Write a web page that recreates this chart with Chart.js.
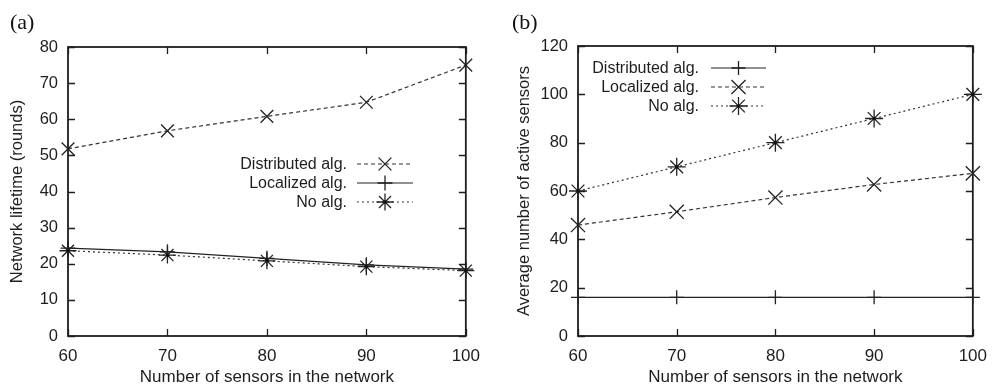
<!DOCTYPE html>
<html><head><meta charset="utf-8">
<script src="https://cdn.jsdelivr.net/npm/chart.js@4/dist/chart.umd.min.js"></script>
<style>
html,body{margin:0;padding:0;background:#fff;width:997px;height:391px;overflow:hidden;}
.wrap{position:absolute;top:0;}
.lbl{position:absolute;font-family:"Liberation Serif","DejaVu Serif",serif;font-size:22px;line-height:22px;color:#111;}
</style></head><body>
<div class="wrap" style="left:0"><canvas id="ca" width="490" height="391"></canvas></div>
<div class="wrap" style="left:500px"><canvas id="cb" width="497" height="391"></canvas></div>
<div class="lbl" style="left:10px;top:11px">(a)</div>
<div class="lbl" style="left:512px;top:11px">(b)</div>
<script>
const sensors = [60, 70, 80, 90, 100];
const xTicks = [60, 70, 80, 90, 100];
const lifetimeTicks = [0, 10, 20, 30, 40, 50, 60, 70, 80];
const activeTicks = [0, 20, 40, 60, 80, 100, 120];
const lifetimeDistributed = [51.8, 56.8, 60.8, 64.7, 75.0];
const lifetimeLocalized = [24.3, 23.3, 21.5, 19.7, 18.5];
const lifetimeNoAlg = [23.6, 22.4, 20.8, 19.2, 18.1];
const activeDistributed = [16, 16, 16, 16, 16];
const activeLocalized = [45.9, 51.4, 57.3, 62.7, 67.3];
const activeNoAlg = [60, 70, 80, 90, 100];
const seriesNames = ['Distributed alg.', 'Localized alg.', 'No alg.'];

const FONT = '"Liberation Sans", Arial, Helvetica, sans-serif';
const INK = '#1e1e1e';

function pts(vals){ return sensors.map((x,i)=>({x:x, y:vals[i]})); }

function drawMarker(ctx, style, r, x, y){
  ctx.beginPath();
  if(style==='cross' || style==='star'){
    ctx.moveTo(x-r,y); ctx.lineTo(x+r,y);
    ctx.moveTo(x,y-r); ctx.lineTo(x,y+r);
  }
  if(style==='crossRot' || style==='star'){
    const d = r*Math.SQRT1_2;
    ctx.moveTo(x-d,y-d); ctx.lineTo(x+d,y+d);
    ctx.moveTo(x-d,y+d); ctx.lineTo(x+d,y-d);
  }
  ctx.stroke();
  if(style==='star'){
    ctx.beginPath(); ctx.arc(x,y,1.6,0,Math.PI*2); ctx.fillStyle='#111'; ctx.fill();
  }
}

const framePlugin = {
  id:'frame',
  beforeDatasetsDraw(chart){
    const {ctx, chartArea:a, scales} = chart;
    const tl = 7;
    ctx.save();
    ctx.strokeStyle = INK;
    ctx.lineWidth = 1.3;
    ctx.beginPath();
    scales.x.ticks.forEach(t=>{
      const px = Math.round(scales.x.getPixelForValue(t.value))+0.5;
      ctx.moveTo(px,a.bottom); ctx.lineTo(px,a.bottom-tl);
      ctx.moveTo(px,a.top); ctx.lineTo(px,a.top+tl);
    });
    scales.y.ticks.forEach(t=>{
      const py = Math.round(scales.y.getPixelForValue(t.value))+0.5;
      ctx.moveTo(a.left,py); ctx.lineTo(a.left+tl,py);
      ctx.moveTo(a.right,py); ctx.lineTo(a.right-tl,py);
    });
    ctx.stroke();
    ctx.lineWidth = 1.8;
    ctx.strokeRect(a.left, a.top, a.right-a.left, a.bottom-a.top);
    ctx.restore();
  }
};

const keyPlugin = {
  id:'key',
  afterDatasetsDraw(chart, args, opts){
    const ctx = chart.ctx;
    ctx.save();
    // center dots of star markers, at the library's own point positions
    chart.data.datasets.forEach((ds,i)=>{
      if(ds.pointStyle!=='star') return;
      chart.getDatasetMeta(i).data.forEach(p=>{
        ctx.beginPath(); ctx.arc(p.x,p.y,1.6,0,Math.PI*2); ctx.fillStyle='#111'; ctx.fill();
      });
    });
    ctx.font = '16px ' + FONT;
    ctx.textAlign = 'right';
    ctx.textBaseline = 'middle';
    chart.data.datasets.forEach((ds,i)=>{
      const y = opts.rows[i];
      ctx.fillStyle = INK;
      ctx.fillText(ds.label, opts.textRight, y+1);
      ctx.strokeStyle = ds.borderColor;
      ctx.lineWidth = ds.borderWidth;
      ctx.setLineDash(ds.borderDash || []);
      ctx.beginPath();
      ctx.moveTo(opts.x1, y); ctx.lineTo(opts.x2, y);
      ctx.stroke();
      ctx.setLineDash([]);
      ctx.strokeStyle = ds.pointBorderColor;
      ctx.lineWidth = ds.pointBorderWidth;
      drawMarker(ctx, ds.pointStyle, ds.pointRadius, (opts.x1+opts.x2)/2, y);
    });
    ctx.restore();
  }
};

function ds(label, vals, style, r, dash, color){
  return {
    label: label, data: pts(vals),
    borderColor: color, borderWidth: 1.2, borderDash: dash,
    pointStyle: style, pointRadius: r, pointBorderColor: '#222', pointBorderWidth: 1.3,
    pointBackgroundColor: 'transparent', fill:false, tension:0, clip:false
  };
}

function makeChart(id, datasets, yTicks, yTitle, yWidth, yTitlePad, pad, key){
  return new Chart(document.getElementById(id), {
    type:'line',
    data:{datasets:datasets},
    plugins:[framePlugin, keyPlugin],
    options:{
      responsive:false, animation:false, devicePixelRatio:1,
      layout:{padding:pad},
      plugins:{legend:{display:false}, tooltip:{enabled:false}, key:key},
      scales:{
        x:{type:'linear', min:xTicks[0], max:xTicks[xTicks.length-1],
           afterBuildTicks(s){ s.ticks = xTicks.map(v=>({value:v})); },
           afterFit(s){ s.height = 55; },
           grid:{display:false, drawTicks:false}, border:{display:false},
           ticks:{color:INK, font:{family:FONT, size:17}, padding:10, maxRotation:0},
           title:{display:true, text:'Number of sensors in the network', color:INK,
                  font:{family:FONT, size:17}, padding:{top:0,bottom:3}}},
        y:{type:'linear', min:yTicks[0], max:yTicks[yTicks.length-1],
           afterBuildTicks(s){ s.ticks = yTicks.map(v=>({value:v})); },
           afterFit(s){ s.width = yWidth; },
           grid:{display:false, drawTicks:false}, border:{display:false},
           ticks:{color:INK, font:{family:FONT, size:16.5}, padding:10},
           title:{display:true, text:yTitle, color:INK,
                  font:{family:FONT, size:16.5}, padding:{top:yTitlePad,bottom:0}}}
      }
    }
  });
}

makeChart('ca', [
  ds(seriesNames[0], lifetimeDistributed, 'crossRot', 9, [4,3], '#333'),
  ds(seriesNames[1], lifetimeLocalized, 'cross', 7.5, [], '#222'),
  ds(seriesNames[2], lifetimeNoAlg, 'star', 8.5, [2,3], '#333')
], lifetimeTicks, 'Network lifetime (rounds)', 68, 8, {top:47, right:16, left:0, bottom:0},
  {textRight:347, rows:[164,183,202], x1:357, x2:413});

makeChart('cb', [
  ds(seriesNames[0], activeDistributed, 'cross', 7, [], '#222'),
  ds(seriesNames[1], activeLocalized, 'crossRot', 10, [4,3], '#333'),
  ds(seriesNames[2], activeNoAlg, 'star', 9, [2,3], '#333')
], activeTicks, 'Average number of active sensors', 78, 15, {top:46, right:23, left:0, bottom:0},
  {textRight:199, rows:[68,87,106], x1:211, x2:266});
</script>
</body></html>
